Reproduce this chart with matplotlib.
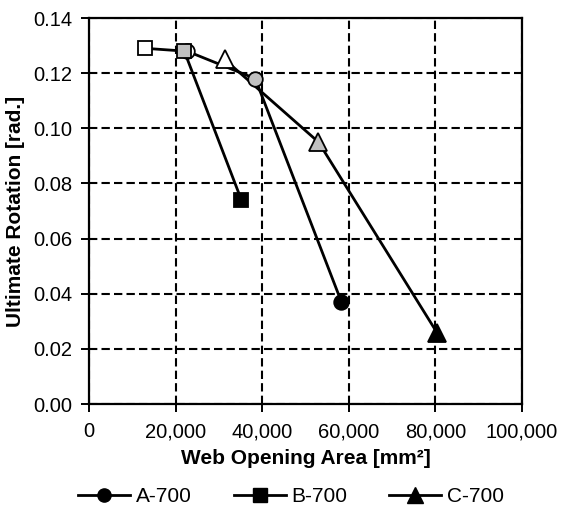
import matplotlib
matplotlib.use("Agg")
import matplotlib.pyplot as plt
from matplotlib.lines import Line2D

plt.rcParams['font.family'] = ['Liberation Sans', 'DejaVu Sans']

# Data
series_names = ["A-700", "B-700", "C-700"]
a_x = [22600, 38400, 58300]
a_y = [0.128, 0.118, 0.037]
b_x = [13000, 22000, 35200]
b_y = [0.129, 0.128, 0.074]
c_x = [31300, 53000, 80400]
c_y = [0.125, 0.095, 0.0258]
point_faces = ["white", "#c0c0c0", "black"]
x_ticks = [0, 20000, 40000, 60000, 80000, 100000]
y_ticks = [0.00, 0.02, 0.04, 0.06, 0.08, 0.10, 0.12, 0.14]

W, H = 563, 508
fig = plt.figure(figsize=(W/100, H/100), dpi=100)
L, R, T, B = 89, 522, 18, 404
ax = fig.add_axes([L/W, 1-B/H, (R-L)/W, (B-T)/H])

series = [(a_x, a_y, 'o', 10.5), (b_x, b_y, 's', 10), (c_x, c_y, '^', 13.5)]
for xs, ys, mk, ms in series:
    ax.plot(xs, ys, color='black', lw=2, zorder=3)
    for x, y, fc in zip(xs, ys, point_faces):
        ax.plot([x], [y], marker=mk, ms=ms, mfc=fc, mec='black', mew=1.3,
                ls='none', zorder=4)

ax.set_xlim(0, 100000)
ax.set_ylim(0, 0.14)
ax.set_xticks(x_ticks)
ax.set_yticks(y_ticks)
ax.set_xticklabels([f"{v:,}" for v in x_ticks])
ax.set_yticklabels([f"{v:.2f}" for v in y_ticks])
ax.grid(True, color='black', ls=(0, (4, 2)), lw=1.5)
ax.set_axisbelow(True)
for s in ax.spines.values():
    s.set_linewidth(1.6)
ax.tick_params(direction='inout', length=12, width=1.4, labelsize=14.5, pad=6)
ax.tick_params(axis='x', pad=7)
ax.set_xlabel("Web Opening Area [mm²]", fontsize=15, fontweight='bold', labelpad=6)
ax.set_ylabel("Ultimate Rotation [rad.]", fontsize=15, fontweight='bold', labelpad=6)

handles = [Line2D([], [], color='black', lw=2, marker=m, ms=s, mfc='black', mec='black')
           for m, s in [('o', 9.5), ('s', 9.5), ('^', 11)]]
fig.legend(handles, series_names, loc='center', bbox_to_anchor=(291/W, 1-497/H),
           ncol=3, frameon=False, fontsize=15, handlelength=2.5, columnspacing=2.0,
           handletextpad=0.27, borderpad=0, borderaxespad=0)

fig.savefig("out.png", dpi=100)
